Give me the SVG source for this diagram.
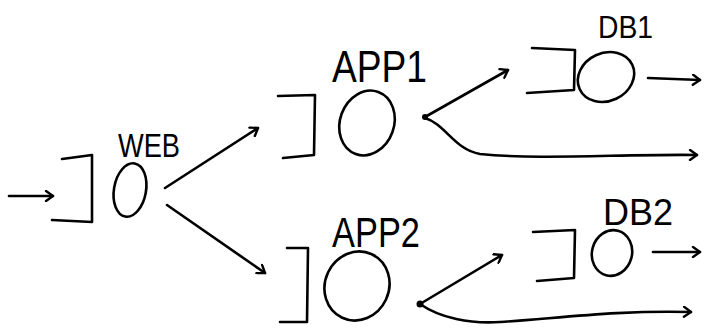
<svg xmlns="http://www.w3.org/2000/svg" width="706" height="328" viewBox="0 0 706 328">
<defs>
<style>
.s{fill:none;stroke:#000;stroke-width:2.6;stroke-linecap:round;stroke-linejoin:round}
.t{font-family:"Liberation Sans","DejaVu Sans",sans-serif;fill:#000}
</style>
<marker id="ah" viewBox="0 0 12 12" refX="10" refY="6" markerWidth="12" markerHeight="12" markerUnits="userSpaceOnUse" orient="auto">
<path d="M3,1 L10,6 L3,11" fill="none" stroke="#000" stroke-width="2.4" stroke-linecap="round" stroke-linejoin="round"/>
</marker>
</defs>
<rect width="706" height="328" fill="#fff"/>
<g id="web">
<path class="s" d="M62,159 L92,155 L92,222 L52,220"/>
<ellipse class="s" cx="130" cy="190" rx="16" ry="27" transform="rotate(10 130 190)"/>
<text class="t" x="118" y="157" font-size="33" textLength="62" lengthAdjust="spacingAndGlyphs">WEB</text>
</g>
<g id="app1">
<path class="s" d="M278,96 L315,95 L314,155 L283,158"/>
<ellipse class="s" cx="367" cy="123" rx="27" ry="33" transform="rotate(20 367 123)"/>
<text class="t" x="332" y="82" font-size="44" textLength="95" lengthAdjust="spacingAndGlyphs">APP1</text>
</g>
<g id="app2">
<path class="s" d="M287,248 L308,248 L307,322 L280,322"/>
<ellipse class="s" cx="357" cy="286" rx="32" ry="35" transform="rotate(25 357 286)"/>
<text class="t" x="332" y="247" font-size="43" textLength="88" lengthAdjust="spacingAndGlyphs">APP2</text>
</g>
<g id="db1">
<path class="s" d="M532,48 L575,50 L574,90 L527,93"/>
<ellipse class="s" cx="606" cy="77" rx="29" ry="24" transform="rotate(-25 606 77)"/>
<text class="t" x="598" y="38" font-size="32" textLength="55" lengthAdjust="spacingAndGlyphs">DB1</text>
</g>
<g id="db2">
<path class="s" d="M533,232 L575,230 L574,278 L537,281"/>
<ellipse class="s" cx="612" cy="253" rx="20" ry="23" transform="rotate(15 612 253)"/>
<text class="t" x="603" y="225" font-size="37" textLength="70" lengthAdjust="spacingAndGlyphs">DB2</text>
</g>
<g id="connectors">
<path class="s" d="M9,196 L53,196" marker-end="url(#ah)"/>
<path class="s" d="M165,188 L258,128" marker-end="url(#ah)"/>
<path class="s" d="M167,205 L265,273" marker-end="url(#ah)"/>
<circle cx="425" cy="117" r="3" fill="#000"/>
<path class="s" d="M425,117 L508,70" marker-end="url(#ah)"/>
<path class="s" d="M425,118 C445,124 455,150 480,154 C540,160 620,154 697,155" marker-end="url(#ah)"/>
<path class="s" d="M648,78 L700,80" marker-end="url(#ah)"/>
<circle cx="420" cy="304" r="3.5" fill="#000"/>
<path class="s" d="M420,304 L502,255" marker-end="url(#ah)"/>
<path class="s" d="M420,304 C440,318 470,324 500,322 C560,318 620,310 691,312" marker-end="url(#ah)"/>
<path class="s" d="M653,252 L700,252" marker-end="url(#ah)"/>
</g>
</svg>
